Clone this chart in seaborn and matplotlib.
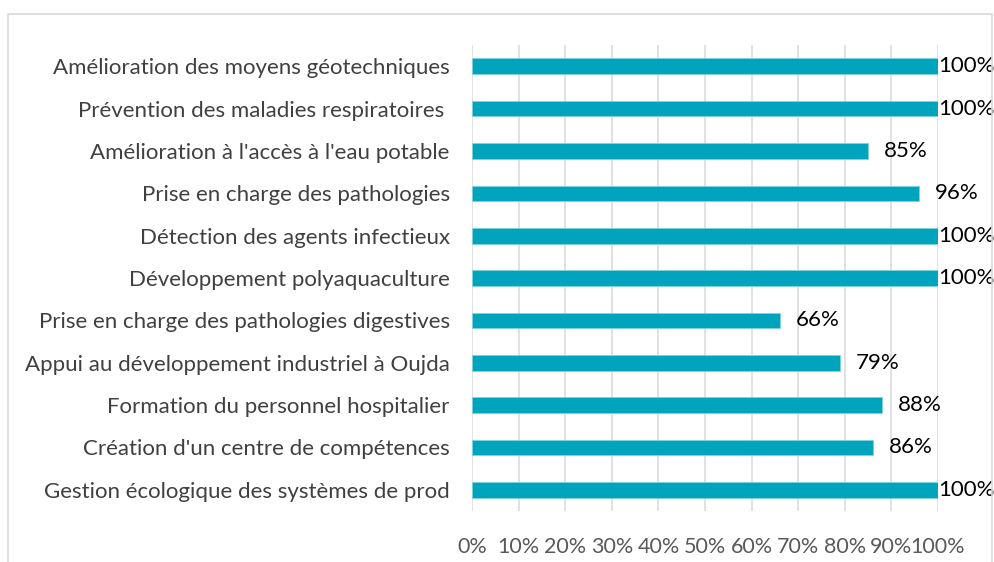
import matplotlib
matplotlib.use("Agg")
import matplotlib.pyplot as plt
import seaborn as sns
import pandas as pd
from matplotlib.patches import Rectangle
from matplotlib.ticker import PercentFormatter

# données du graphique (ordre d'affichage, de haut en bas)
projets = [
    "Amélioration des moyens géotechniques",
    "Prévention des maladies respiratoires ",
    "Amélioration à l'accès à l'eau potable",
    "Prise en charge des pathologies",
    "Détection des agents infectieux",
    "Développement polyaquaculture",
    "Prise en charge des pathologies digestives",
    "Appui au développement industriel à Oujda",
    "Formation du personnel hospitalier",
    "Création d'un centre de compétences",
    "Gestion écologique des systèmes de prod",
]
taux = [1.00, 1.00, 0.85, 0.96, 1.00, 1.00, 0.66, 0.79, 0.88, 0.86, 1.00]
etiquettes = ["100%", "100%", "85%", "96%", "100%", "100%", "66%", "79%", "88%", "86%", "100%"]

df = pd.DataFrame({"projet": projets, "taux": taux})

sns.set_theme(style="white")
plt.rcParams["font.family"] = ["Lato", "DejaVu Sans"]

fig = plt.figure(figsize=(9.95, 5.62), dpi=100)
ax = fig.add_axes([0.4744, 0.0907, 0.4683, 0.829])

sns.barplot(data=df, x="taux", y="projet", color="#00A4BD", width=0.37,
            edgecolor="#7FD3DF", linewidth=0.6, saturation=1, ax=ax, zorder=2)

ax.set_xlim(0, 1)
ax.set_ylim(10.5, -0.5)
ax.xaxis.set_major_locator(plt.MultipleLocator(0.1))
ax.xaxis.set_major_formatter(PercentFormatter(1.0, decimals=0))
ax.grid(axis="x", color="#d9d9d9", linewidth=1.1, zorder=0)
ax.set_axisbelow(True)
for s in ax.spines.values():
    s.set_visible(False)
ax.set_xlabel("")
ax.set_ylabel("")
ax.tick_params(axis="y", length=0, pad=16, labelsize=16, labelcolor="#404040")
ax.tick_params(axis="x", length=0, pad=19, labelsize=15.5, labelcolor="#595959")

# étiquettes de valeur (Excel les ramène dans la zone pour 100 %)
for i, (v, lab) in enumerate(zip(taux, etiquettes)):
    ax.text(min(v + 0.034, 1.0), i, lab, va="center", ha="left",
            fontsize=16, color="black", zorder=3, clip_on=False)

# cadre gris du graphique
fig.patches.append(Rectangle((8 / 995, -0.02), 984 / 995, 1.02 - 14 / 562,
                             transform=fig.transFigure, fill=False,
                             edgecolor="#d9d9d9", linewidth=1.2))

fig.savefig("out.png", dpi=100)
